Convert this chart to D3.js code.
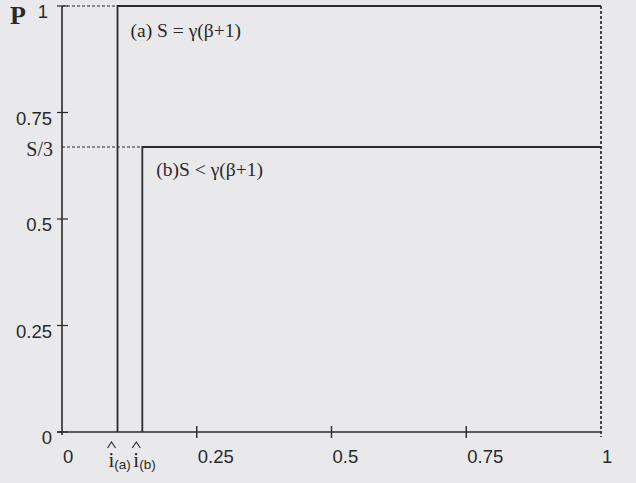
<!DOCTYPE html>
<html>
<head>
<meta charset="utf-8">
<script src="https://cdn.jsdelivr.net/npm/d3@7"></script>
<style>
  html, body { margin: 0; padding: 0; background: #e9e9eb; }
  svg { display: block; }
</style>
</head>
<body>
<svg id="chart" width="636" height="483"></svg>
<script>
// Tick values for both axes
const xTicks = [0, 0.25, 0.5, 0.75, 1];
const yTicks = [0, 0.25, 0.5, 0.75, 1];

// The two cases: switching threshold i-hat and the plateau level P
const cases = ["a", "b"];
const thresholds = [0.103, 0.149];
const plateaus = [1, 0.669];
const plateauLabels = ["1", "S/3"];
const captions = ["(a) S = \u03b3(\u03b2+1)", "(b)S < \u03b3(\u03b2+1)"];

const svg = d3.select("#chart");
const ink = "#2a2a2a";

const x = d3.scaleLinear().domain([0, 1]).range([62, 601]);
const y = d3.scaleLinear().domain([0, 1]).range([432, 6]);

const sans = "'Liberation Sans', Arial, sans-serif";
const serif = "'Liberation Serif', 'Times New Roman', serif";

// Axes
svg.append("line").attr("x1", x(0) - 5).attr("x2", x(1))
  .attr("y1", y(0)).attr("y2", y(0))
  .attr("stroke", ink).attr("stroke-width", 1.6);
svg.append("line").attr("x1", x(0)).attr("x2", x(0))
  .attr("y1", y(0) + 3).attr("y2", y(1))
  .attr("stroke", ink).attr("stroke-width", 1.6);

// x ticks and labels
svg.selectAll(".xt").data(xTicks.filter(d => d > 0 && d < 1)).join("line")
  .attr("x1", d => x(d)).attr("x2", d => x(d))
  .attr("y1", y(0) - 6).attr("y2", y(0) + 6)
  .attr("stroke", ink).attr("stroke-width", 1.4);
svg.selectAll(".xl").data(xTicks).join("text")
  .attr("x", d => x(d) + 1).attr("y", 463)
  .attr("font-family", sans).attr("font-size", 18.5).attr("fill", ink)
  .text(d => d3.format("~g")(d));

// y ticks and labels
svg.selectAll(".yt").data(yTicks).join("line")
  .attr("x1", x(0) - 5).attr("x2", x(0) + 6)
  .attr("y1", d => y(d)).attr("y2", d => y(d))
  .attr("stroke", ink).attr("stroke-width", 1.2);
svg.selectAll(".yl").data(yTicks).join("text")
  .attr("x", d => d === 1 ? 48 : 52).attr("y", d => y(d) + 12)
  .attr("text-anchor", "end")
  .attr("font-family", sans).attr("font-size", 18.5).attr("fill", ink)
  .text(d => d3.format("~g")(d));

// Axis title P
svg.append("text").attr("x", 10).attr("y", 24)
  .attr("font-family", serif).attr("font-size", 26).attr("font-weight", "bold")
  .attr("fill", ink).text("P");

// S/3 level label
svg.append("text").attr("x", 53).attr("y", y(plateaus[1]) + 9)
  .attr("text-anchor", "end")
  .attr("font-family", serif).attr("font-size", 20).attr("fill", ink)
  .text(plateauLabels[1]);

// Dotted guides: plateau levels back to the P axis and the right edge
cases.forEach((c, i) => {
  svg.append("line")
    .attr("x1", x(0)).attr("x2", x(thresholds[i]))
    .attr("y1", y(plateaus[i])).attr("y2", y(plateaus[i]))
    .attr("stroke", ink).attr("stroke-width", 1.2)
    .attr("stroke-dasharray", "3,2");
});
svg.append("line")
  .attr("x1", x(1)).attr("x2", x(1))
  .attr("y1", y(1)).attr("y2", y(0) + 5)
  .attr("stroke", ink).attr("stroke-width", 1.7)
  .attr("stroke-dasharray", "3,2");

// Step functions: zero until i-hat, then the plateau up to 1
const step = d3.line().x(d => x(d[0])).y(d => y(d[1]));
cases.forEach((c, i) => {
  const pts = [[thresholds[i], 0], [thresholds[i], plateaus[i]], [1, plateaus[i]]];
  svg.append("path").attr("d", step(pts))
    .attr("fill", "none").attr("stroke", ink).attr("stroke-width", 1.8);
});

// Case captions
svg.append("text").attr("x", x(thresholds[0]) + 13).attr("y", 37)
  .attr("font-family", serif).attr("font-size", 19.5).attr("fill", ink)
  .text(captions[0]);
svg.append("text").attr("x", x(thresholds[1]) + 14).attr("y", 176)
  .attr("font-family", serif).attr("font-size", 19.5).attr("fill", ink)
  .text(captions[1]);

// i-hat labels under the thresholds: a caret over an italic-free serif i
cases.forEach((c, i) => {
  const cx = x(thresholds[i]) - 6;
  svg.append("path")
    .attr("d", `M${cx - 4},448 L${cx},442 L${cx + 4},448`)
    .attr("fill", "none").attr("stroke", ink).attr("stroke-width", 1.1);
  const t = svg.append("text").attr("x", cx - 3).attr("y", 467)
    .attr("font-family", serif).attr("font-size", 21).attr("fill", ink);
  t.append("tspan").text("i");
  t.append("tspan").attr("font-family", sans).attr("font-size", 13.5)
    .attr("dy", 2).text("(" + c + ")");
});
</script>
</body>
</html>
